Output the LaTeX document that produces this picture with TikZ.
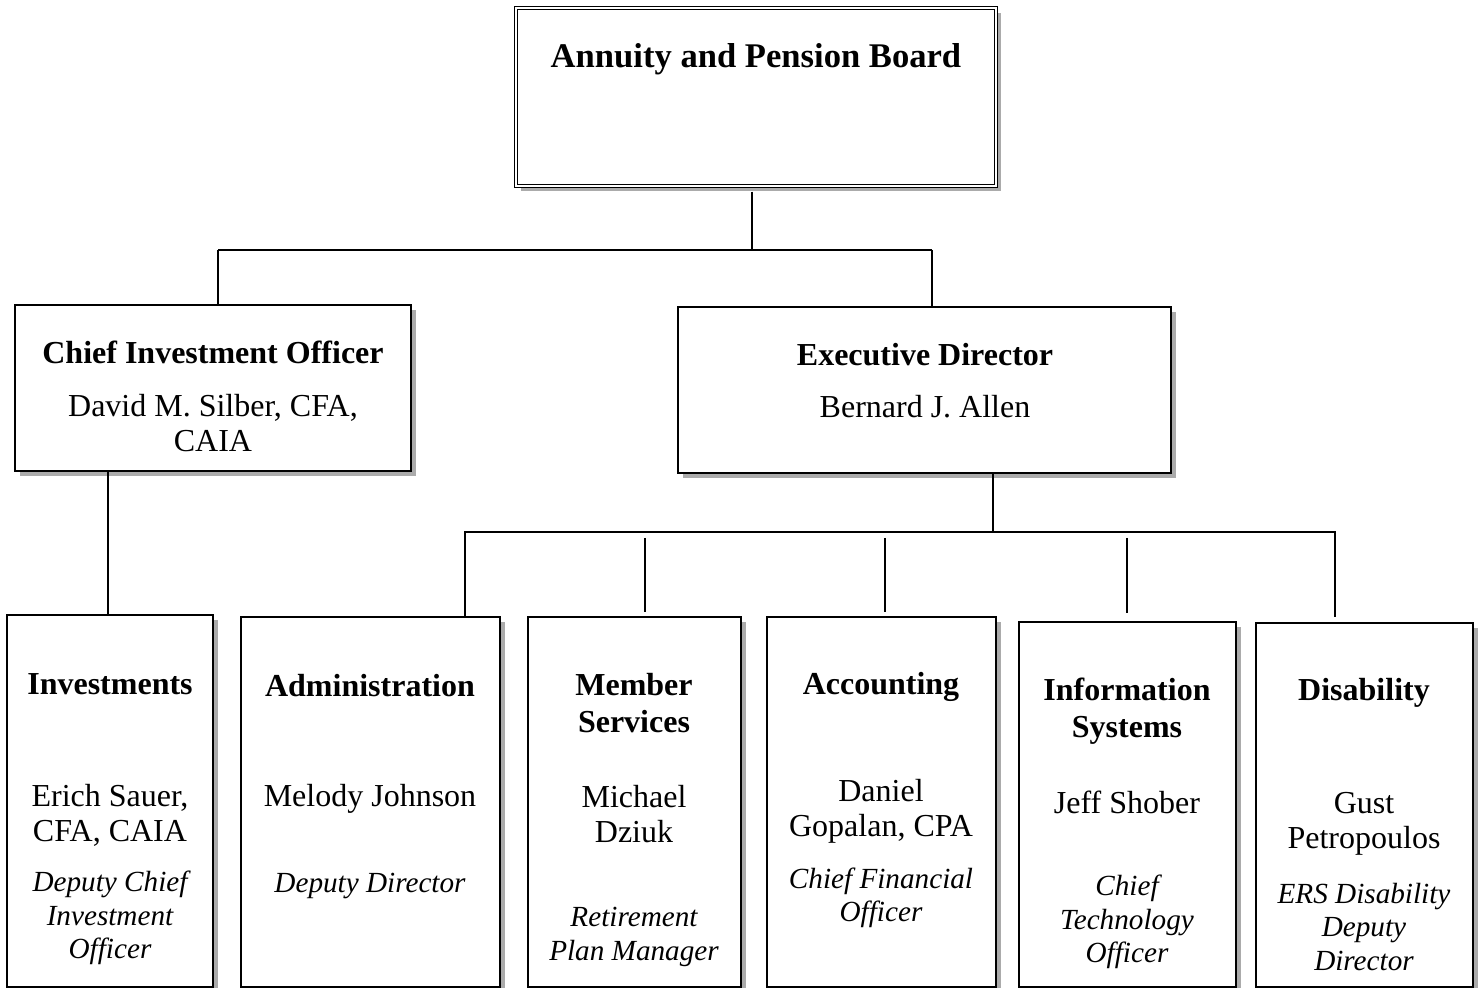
\documentclass[tikz,border=0pt]{standalone}
\usepackage{fontspec}
\setmainfont{Liberation Serif}
\usetikzlibrary{fit,shadows}
\begin{document}
\begin{tikzpicture}[x=0.5pt,y=-0.5pt,
  box/.style={draw=black, line width=1pt, fill=white, inner sep=0pt,
    drop shadow={shadow xshift=2.4pt, shadow yshift=-2.4pt, fill=black!60, opacity=0.55}},
  dbox/.style={draw=black, line width=0.6pt, double=white, double distance=1.1pt, fill=white, inner sep=0pt,
    drop shadow={shadow xshift=2.4pt, shadow yshift=-2.4pt, fill=black!60, opacity=0.55}},
  conn/.style={line width=1pt, draw=black},
  title/.style={font=\bfseries\fontsize{16}{18.3}\selectfont, align=center, inner sep=0pt},
  bigtitle/.style={font=\bfseries\fontsize{17.3}{20}\selectfont, align=center, inner sep=0pt},
  pname/.style={font=\fontsize{16}{17.6}\selectfont, align=center, inner sep=0pt},
  role/.style={font=\itshape\fontsize{14.6}{16.8}\selectfont, align=center, inner sep=0pt}]
\useasboundingbox (0,0) rectangle (1480,988);
\fill[white] (0,0) rectangle (1480,988);

% boxes
\node[dbox, fit={(516,8)(996,186)}] (board) {};
\node[box, fit={(15,305)(411,471)}] (cio) {};
\node[box, fit={(678,307)(1171,473)}] (ed) {};
\node[box, fit={(7,615)(213,987)}] (inv) {};
\node[box, fit={(241,617)(500,987)}] (adm) {};
\node[box, fit={(528,617)(741,987)}] (mem) {};
\node[box, fit={(767,617)(996,987)}] (acc) {};
\node[box, fit={(1019,622)(1236,987)}] (ins) {};
\node[box, fit={(1256,623)(1473,987)}] (dis) {};

% texts
\node[bigtitle] (tboard) at (756,59) {Annuity and Pension Board};
\node[title] (tcio) at (213,352) {Chief Investment Officer};
\node[pname] (ncio) at (213,423) {David M. Silber, CFA,\\CAIA};
\node[title] (ted) at (925,355) {Executive Director};
\node[pname] (ned) at (925,407) {Bernard J. Allen};

\node[title] (tinv) at (110,684) {Investments};
\node[pname] (ninv) at (110,815) {Erich Sauer,\\CFA, CAIA};
\node[role] (rinv) at (110,918) {Deputy Chief\\Investment\\Officer};

\node[title] (tadm) at (370,686) {Administration};
\node[pname] (nadm) at (370,799) {Melody Johnson};
\node[role] (radm) at (370,886) {Deputy Director};

\node[title] (tmem) at (634,703) {Member\\Services};
\node[pname] (nmem) at (634,814) {Michael\\Dziuk};
\node[role] (rmem) at (634,937) {Retirement\\Plan Manager};

\node[title] (tacc) at (881,687) {Accounting};
\node[pname] (nacc) at (881,811) {Daniel\\Gopalan, CPA};
\node[role] (racc) at (881,898) {Chief Financial\\Officer};

\node[title] (tins) at (1127,711) {Information\\Systems};
\node[pname] (nins) at (1127,802) {Jeff Shober};
\node[role] (rins) at (1127,922) {Chief\\Technology\\Officer};

\node[title] (tdis) at (1364,693) {Disability};
\node[pname] (ndis) at (1364,824) {Gust\\Petropoulos};
\node[role] (rdis) at (1364,927) {ERS Disability\\Deputy\\Director};

% connector points
\coordinate (j0) at (752,250);
\coordinate (jl) at (218,250);
\coordinate (jr) at (932,250);
\coordinate (ci) at (108,471);
\coordinate (e0) at (993,532);
\coordinate (b1) at (465,532);
\coordinate (b6) at (1335,532);
\coordinate (b6e) at (1335,617);
\coordinate (m1) at (645,538);
\coordinate (a1) at (885,538);
\coordinate (i1) at (1127,538);

\draw[conn] (board.south -| j0) ++(0,5) -- (j0);
\draw[conn] (jl) -- (jr);
\draw[conn] (jl) -- (cio.north -| jl);
\draw[conn] (jr) -- (ed.north -| jr);
\draw[conn] (cio.south -| ci) -- (inv.north -| ci);
\draw[conn] (ed.south -| e0) -- (e0);
\draw[conn] (adm.north -| b1) -- (b1) -- (b6) -- (b6e);
\draw[conn, shorten >=2pt] (m1) -- (mem.north -| m1);
\draw[conn, shorten >=2pt] (a1) -- (acc.north -| a1);
\draw[conn, shorten >=4pt] (i1) -- (ins.north -| i1);
\end{tikzpicture}
\end{document}
